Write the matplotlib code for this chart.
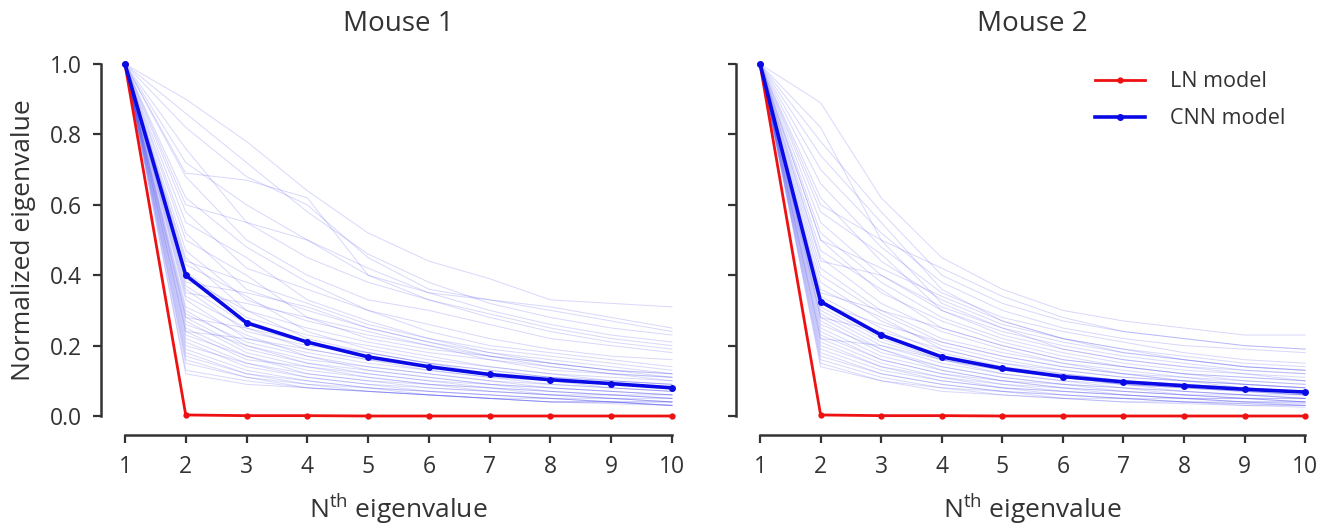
import numpy as np
import matplotlib
matplotlib.use("Agg")
import matplotlib.pyplot as plt

plt.rcParams['font.family'] = ['Open Sans', 'DejaVu Sans']

# eigenvalue index
n_eig = [1, 2, 3, 4, 5, 6, 7, 8, 9, 10]

# mean curves
ln_mouse1 = [1.0, 0.003, 0.001, 0.001, 0.0, 0.0, 0.0, 0.0, 0.0, 0.0]
cnn_mouse1 = [1.0, 0.40, 0.265, 0.21, 0.168, 0.14, 0.118, 0.103, 0.092, 0.080]
ln_mouse2 = [1.0, 0.003, 0.001, 0.001, 0.0, 0.0, 0.0, 0.0, 0.0, 0.0]
cnn_mouse2 = [1.0, 0.325, 0.23, 0.168, 0.135, 0.112, 0.097, 0.086, 0.076, 0.068]

# individual neurons (eigenvalues 2..10, first one is always 1)
neurons_mouse1 = [
    [0.90, 0.78, 0.64, 0.52, 0.44, 0.39, 0.33, 0.32, 0.31],
    [0.82, 0.68, 0.60, 0.45, 0.36, 0.33, 0.30, 0.27, 0.24],
    [0.69, 0.67, 0.62, 0.40, 0.35, 0.33, 0.31, 0.28, 0.25],
    [0.76, 0.55, 0.45, 0.38, 0.33, 0.29, 0.25, 0.22, 0.20],
    [0.68, 0.50, 0.40, 0.33, 0.30, 0.26, 0.22, 0.20, 0.18],
    [0.62, 0.48, 0.38, 0.30, 0.26, 0.22, 0.19, 0.17, 0.16],
    [0.58, 0.42, 0.36, 0.30, 0.24, 0.20, 0.18, 0.16, 0.14],
    [0.55, 0.45, 0.33, 0.27, 0.22, 0.19, 0.17, 0.15, 0.13],
    [0.52, 0.36, 0.30, 0.25, 0.21, 0.18, 0.16, 0.14, 0.12],
    [0.50, 0.40, 0.28, 0.22, 0.19, 0.17, 0.15, 0.13, 0.12],
    [0.47, 0.33, 0.27, 0.23, 0.20, 0.16, 0.14, 0.12, 0.11],
    [0.45, 0.30, 0.25, 0.21, 0.18, 0.16, 0.13, 0.12, 0.10],
    [0.43, 0.34, 0.24, 0.19, 0.16, 0.14, 0.12, 0.11, 0.10],
    [0.41, 0.28, 0.23, 0.20, 0.17, 0.14, 0.12, 0.10, 0.09],
    [0.39, 0.30, 0.22, 0.18, 0.15, 0.13, 0.11, 0.10, 0.09],
    [0.37, 0.26, 0.21, 0.17, 0.14, 0.12, 0.11, 0.09, 0.08],
    [0.36, 0.24, 0.20, 0.18, 0.15, 0.12, 0.10, 0.09, 0.08],
    [0.34, 0.25, 0.19, 0.16, 0.13, 0.11, 0.10, 0.08, 0.07],
    [0.33, 0.22, 0.18, 0.15, 0.13, 0.11, 0.09, 0.08, 0.07],
    [0.31, 0.23, 0.17, 0.14, 0.12, 0.10, 0.09, 0.08, 0.07],
    [0.30, 0.20, 0.16, 0.14, 0.12, 0.10, 0.08, 0.07, 0.06],
    [0.29, 0.21, 0.17, 0.13, 0.11, 0.09, 0.08, 0.07, 0.06],
    [0.28, 0.19, 0.15, 0.13, 0.11, 0.09, 0.08, 0.07, 0.06],
    [0.27, 0.18, 0.14, 0.12, 0.10, 0.09, 0.07, 0.06, 0.06],
    [0.26, 0.20, 0.15, 0.12, 0.10, 0.08, 0.07, 0.06, 0.05],
    [0.25, 0.17, 0.13, 0.11, 0.09, 0.08, 0.07, 0.06, 0.05],
    [0.24, 0.16, 0.14, 0.11, 0.09, 0.08, 0.06, 0.06, 0.05],
    [0.23, 0.17, 0.12, 0.10, 0.09, 0.07, 0.06, 0.05, 0.05],
    [0.22, 0.15, 0.12, 0.10, 0.08, 0.07, 0.06, 0.05, 0.04],
    [0.21, 0.14, 0.11, 0.09, 0.08, 0.07, 0.06, 0.05, 0.04],
    [0.20, 0.15, 0.11, 0.09, 0.07, 0.06, 0.05, 0.05, 0.04],
    [0.19, 0.13, 0.10, 0.08, 0.07, 0.06, 0.05, 0.04, 0.04],
    [0.18, 0.12, 0.10, 0.08, 0.07, 0.06, 0.05, 0.04, 0.04],
    [0.17, 0.12, 0.09, 0.08, 0.06, 0.05, 0.05, 0.04, 0.03],
    [0.16, 0.11, 0.09, 0.07, 0.06, 0.05, 0.04, 0.04, 0.03],
    [0.15, 0.11, 0.08, 0.07, 0.06, 0.05, 0.04, 0.04, 0.03],
    [0.13, 0.10, 0.08, 0.07, 0.06, 0.05, 0.04, 0.04, 0.03],
    [0.12, 0.09, 0.08, 0.07, 0.06, 0.05, 0.04, 0.035, 0.03],
    [0.60, 0.55, 0.50, 0.40, 0.33, 0.28, 0.24, 0.21, 0.19],
    [0.35, 0.32, 0.28, 0.24, 0.20, 0.17, 0.14, 0.12, 0.11],
    [0.44, 0.38, 0.32, 0.26, 0.22, 0.18, 0.15, 0.13, 0.12],
    [0.28, 0.25, 0.21, 0.18, 0.15, 0.13, 0.11, 0.10, 0.09],
    [0.72, 0.60, 0.50, 0.42, 0.35, 0.30, 0.26, 0.23, 0.21],
    [0.38, 0.35, 0.31, 0.25, 0.21, 0.17, 0.15, 0.13, 0.11],
    [0.24, 0.22, 0.19, 0.16, 0.14, 0.12, 0.10, 0.09, 0.08],
    [0.86, 0.72, 0.58, 0.46, 0.38, 0.32, 0.28, 0.25, 0.23],
]

neurons_mouse2 = [
    [0.89, 0.62, 0.45, 0.36, 0.30, 0.27, 0.25, 0.23, 0.23],
    [0.78, 0.58, 0.40, 0.32, 0.27, 0.24, 0.22, 0.20, 0.19],
    [0.70, 0.52, 0.38, 0.30, 0.25, 0.22, 0.20, 0.19, 0.18],
    [0.66, 0.48, 0.35, 0.28, 0.24, 0.21, 0.18, 0.16, 0.15],
    [0.62, 0.44, 0.33, 0.26, 0.22, 0.19, 0.16, 0.14, 0.13],
    [0.58, 0.46, 0.30, 0.24, 0.20, 0.17, 0.15, 0.13, 0.12],
    [0.55, 0.40, 0.31, 0.25, 0.19, 0.16, 0.14, 0.12, 0.11],
    [0.52, 0.38, 0.28, 0.22, 0.18, 0.15, 0.13, 0.12, 0.10],
    [0.50, 0.35, 0.27, 0.21, 0.17, 0.14, 0.12, 0.11, 0.10],
    [0.47, 0.36, 0.25, 0.20, 0.16, 0.14, 0.12, 0.10, 0.09],
    [0.45, 0.32, 0.24, 0.19, 0.15, 0.13, 0.11, 0.10, 0.09],
    [0.42, 0.30, 0.22, 0.18, 0.15, 0.12, 0.11, 0.09, 0.08],
    [0.40, 0.29, 0.21, 0.17, 0.14, 0.12, 0.10, 0.09, 0.08],
    [0.38, 0.27, 0.20, 0.16, 0.13, 0.11, 0.10, 0.08, 0.07],
    [0.36, 0.28, 0.19, 0.15, 0.12, 0.10, 0.09, 0.08, 0.07],
    [0.34, 0.25, 0.18, 0.14, 0.12, 0.10, 0.09, 0.08, 0.07],
    [0.33, 0.23, 0.17, 0.14, 0.11, 0.09, 0.08, 0.07, 0.06],
    [0.31, 0.22, 0.16, 0.13, 0.11, 0.09, 0.08, 0.07, 0.06],
    [0.30, 0.21, 0.16, 0.12, 0.10, 0.09, 0.07, 0.06, 0.06],
    [0.29, 0.20, 0.15, 0.12, 0.10, 0.08, 0.07, 0.06, 0.05],
    [0.28, 0.19, 0.14, 0.11, 0.09, 0.08, 0.07, 0.06, 0.05],
    [0.27, 0.18, 0.14, 0.11, 0.09, 0.08, 0.06, 0.06, 0.05],
    [0.26, 0.19, 0.13, 0.10, 0.09, 0.07, 0.06, 0.05, 0.05],
    [0.25, 0.17, 0.13, 0.10, 0.08, 0.07, 0.06, 0.05, 0.05],
    [0.24, 0.16, 0.12, 0.10, 0.08, 0.07, 0.06, 0.05, 0.04],
    [0.23, 0.16, 0.12, 0.09, 0.08, 0.06, 0.05, 0.05, 0.04],
    [0.22, 0.15, 0.11, 0.09, 0.07, 0.06, 0.05, 0.05, 0.04],
    [0.21, 0.14, 0.11, 0.08, 0.07, 0.06, 0.05, 0.04, 0.04],
    [0.20, 0.14, 0.10, 0.08, 0.07, 0.06, 0.05, 0.04, 0.04],
    [0.19, 0.13, 0.10, 0.08, 0.06, 0.05, 0.05, 0.04, 0.035],
    [0.18, 0.12, 0.09, 0.07, 0.06, 0.05, 0.04, 0.04, 0.03],
    [0.17, 0.12, 0.09, 0.07, 0.06, 0.05, 0.04, 0.035, 0.03],
    [0.16, 0.11, 0.08, 0.07, 0.05, 0.05, 0.04, 0.035, 0.03],
    [0.15, 0.10, 0.08, 0.06, 0.05, 0.04, 0.04, 0.03, 0.03],
    [0.14, 0.10, 0.07, 0.06, 0.05, 0.04, 0.035, 0.03, 0.025],
    [0.60, 0.50, 0.42, 0.34, 0.28, 0.24, 0.22, 0.20, 0.19],
    [0.44, 0.40, 0.30, 0.23, 0.19, 0.16, 0.14, 0.13, 0.12],
    [0.35, 0.30, 0.25, 0.20, 0.16, 0.14, 0.12, 0.11, 0.10],
    [0.28, 0.24, 0.19, 0.15, 0.13, 0.11, 0.10, 0.09, 0.08],
    [0.74, 0.55, 0.36, 0.27, 0.22, 0.19, 0.17, 0.15, 0.14],
    [0.22, 0.20, 0.16, 0.13, 0.11, 0.09, 0.08, 0.07, 0.06],
    [0.50, 0.42, 0.34, 0.27, 0.22, 0.18, 0.16, 0.14, 0.13],
    [0.32, 0.26, 0.21, 0.17, 0.14, 0.12, 0.10, 0.09, 0.08],
    [0.82, 0.50, 0.32, 0.25, 0.21, 0.18, 0.16, 0.14, 0.13],
]

titles = ["Mouse 1", "Mouse 2"]
txt = "#333333"

fig = plt.figure(figsize=(13.32, 5.29), dpi=100)
ax1 = fig.add_axes([0.0938, 0.2136, 0.4107, 0.6654])
ax2 = fig.add_axes([0.5706, 0.2136, 0.4092, 0.6654])

panels = [(ax1, neurons_mouse1, ln_mouse1, cnn_mouse1),
          (ax2, neurons_mouse2, ln_mouse2, cnn_mouse2)]

for i, (ax, neurons, ln, cnn) in enumerate(panels):
    for row in neurons:
        ax.plot(n_eig, [1.0] + row, color="#3a3af0", alpha=0.2, lw=0.7, clip_on=False)
    ax.plot(n_eig, ln, color="#ee1111", lw=2.0, marker="o", ms=3.5,
            label="LN model", clip_on=False, zorder=5)
    ax.plot(n_eig, cnn, color="#0a0ae6", lw=2.6, marker="o", ms=4,
            label="CNN model", clip_on=False, zorder=6)

    ax.set_xlim(1, 10)
    ax.set_ylim(0, 1)
    ax.set_xticks(n_eig)
    ax.set_yticks([0.0, 0.2, 0.4, 0.6, 0.8, 1.0])
    ax.spines['top'].set_visible(False)
    ax.spines['right'].set_visible(False)
    ax.spines['left'].set_position(('outward', 17))
    ax.spines['bottom'].set_position(('outward', 14))
    for s in ['left', 'bottom']:
        ax.spines[s].set_linewidth(1.8)
        ax.spines[s].set_color(txt)
    ax.tick_params(axis='both', length=6, width=1.6, color=txt,
                   labelsize=16.5, labelcolor=txt, pad=8)
    ax.set_title(titles[i], fontsize=20, color=txt, pad=24)
    ax.set_xlabel("N$^{\\mathregular{th}}$ eigenvalue", fontsize=19, color=txt, labelpad=9)

ax1.set_ylabel("Normalized eigenvalue", fontsize=19, color=txt, labelpad=10)
ax1.set_yticklabels(["0.0", "0.2", "0.4", "0.6", "0.8", "1.0"])
ax2.set_yticklabels([])

leg = ax2.legend(loc="upper right", frameon=False, fontsize=15.5,
                 handlelength=2.3, labelspacing=0.75, handletextpad=1.2,
                 bbox_to_anchor=(1.0, 1.035))
for t in leg.get_texts():
    t.set_color(txt)

fig.savefig("out.png", dpi=100)
